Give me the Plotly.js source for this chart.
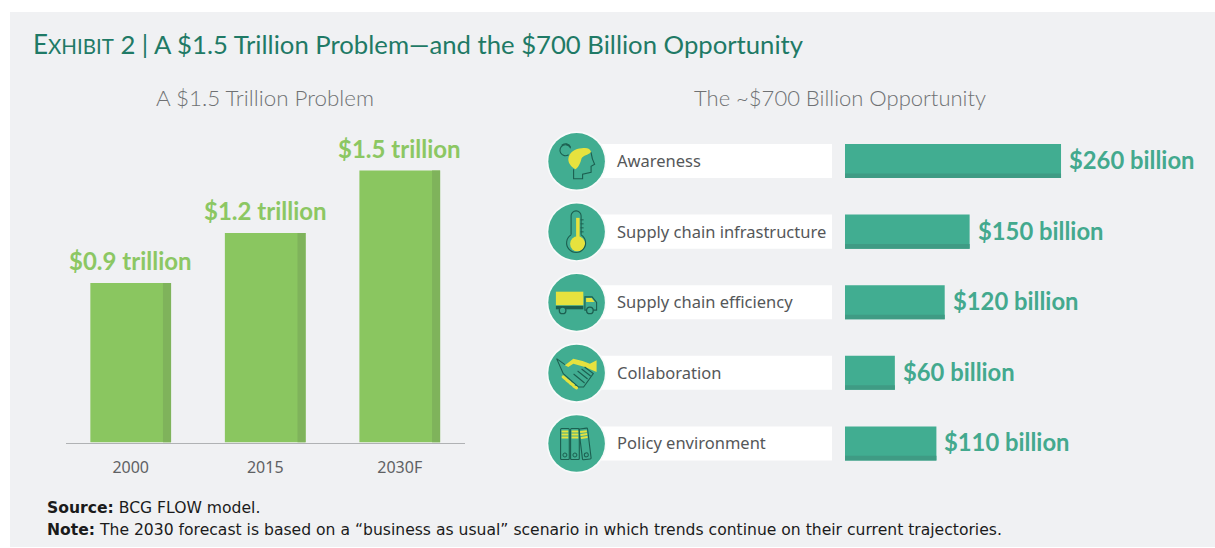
<!DOCTYPE html>
<html>
<head>
<meta charset="utf-8">
<script src="https://cdn.plot.ly/plotly-3.0.1.min.js"></script>
<style>html,body{margin:0;padding:0;background:#fff}#chart{width:1215px;height:548px}</style>
</head>
<body>
<div id="chart"></div>
<script>
// ---- data ----
const problemYears = ['2000', '2015', '2030F'];
const problemHeights = [0.886, 1.164, 1.511];
const problemLabels = ['$0.9 trillion', '$1.2 trillion', '$1.5 trillion'];
const opportunityCategories = ['Awareness', 'Supply chain infrastructure', 'Supply chain efficiency', 'Collaboration', 'Policy environment'];
const opportunityValues = [260, 150, 120, 60, 110];
const opportunityLabels = ['$260 billion', '$150 billion', '$120 billion', '$60 billion', '$110 billion'];
const mainTitle = '<span style="font-size:26px">E</span><span style="font-size:20.5px">XHIBIT</span> 2 | A $1.5 Trillion Problem—and the $700 Billion Opportunity';
const leftTitle = 'A $1.5 Trillion Problem';
const rightTitle = 'The ~$700 Billion Opportunity';
const sourceNote = '<b>Source:</b> BCG FLOW model.';
const noteText = '<b>Note:</b> The 2030 forecast is based on a “business as usual” scenario in which trends continue on their current trajectories.';

// ---- page geometry helpers ----
const W = 1215, H = 548;
const px = v => v / W;
const py = v => 1 - v / H;

// ---- icons (decorative) ----
const D = '#1c5f50', Y = '#e6e23e';
const iconBodies = [
  // head
  `<path d="M21.7 28.3C22 21 29 17 35 17C40 16 44 17 44.5 21C41 24 37 24 35 27C34 31 32 36 29 38C25 36 22 33 21.7 28.3Z" fill="${Y}"/>
   <path d="M44.5 21C45 25 45 27 48 33L44.5 35L44.5 41L36 43L36 47.5L27 47.5L27 38" fill="none" stroke="${D}" stroke-width="1.1"/>
   <path d="M24 17A5.5 5.5 0 1 0 22 23.5M15 14A5.5 5.5 0 0 1 24 16" fill="none" stroke="${D}" stroke-width="1.1"/>`,
  // thermometer
  `<circle cx="31" cy="42" r="7.5" fill="${Y}"/><rect x="29.5" y="16" width="3.5" height="22" fill="${Y}"/>
   <path d="M24.5 33V14A5 5 0 0 1 34.500 14V33" fill="none" stroke="${D}" stroke-width="1.1"/>
   <path d="M24.5 33A9.500 9.500 0 1 0 34.500 33" fill="none" stroke="${D}" stroke-width="1.1"/>
   <path d="M34 18h3M34 22h3M34 26h3M34 30h3" stroke="${D}" stroke-width="1"/>`,
  // truck
  `<rect x="9.300" y="19.300" width="27.400" height="13.500" fill="${Y}"/><rect x="9.300" y="33.500" width="27.400" height="3.400" fill="${D}"/>
   <path d="M38.300 37.700V24.500H45.500L50 30V37.700Z" fill="none" stroke="${D}" stroke-width="1.1"/>
   <path d="M39.500 25.500H45L48 29.500H39.500Z" fill="${Y}"/>
   <circle cx="16" cy="38" r="3.300" fill="#41ad91" stroke="${D}" stroke-width="1.300"/><circle cx="43.300" cy="38" r="3.300" fill="#41ad91" stroke="${D}" stroke-width="1.300"/>`,
  // handshake
  `<path d="M18.300 22.300L26.700 15.700L36 18L43.300 20.700L50 17.300V29L38.300 24L26.700 20.700L21.700 24Z" fill="${Y}"/>
   <path d="M10 15.700L18.300 21.700M10 15.700L16.700 30.700L31.700 44H37L46.700 30.700L38 24M27 31L38 40M31 28L41 36M35 26L44 33" fill="none" stroke="${D}" stroke-width="1.100"/>
   <path d="M16.500 34L19.500 36.500M20 37L23.300 39.500M23.500 40L26.800 42.300M27 43L30 45" stroke="${Y}" stroke-width="3" stroke-linecap="round"/>`,
  // binders
  `<rect x="14" y="15" width="8.700" height="31" rx="1" fill="none" stroke="${D}" stroke-width="1.100"/>
   <rect x="24" y="15" width="8.700" height="31" rx="1" fill="none" stroke="${D}" stroke-width="1.100"/>
   <g transform="rotate(-7 38 30)"><rect x="34" y="15" width="8.700" height="31" rx="1" fill="none" stroke="${D}" stroke-width="1.100"/>
   <path d="M35 18h6.700M35 21h6.700M35 24h6.700" stroke="${Y}" stroke-width="2"/><circle cx="38.300" cy="41.500" r="2" fill="none" stroke="${D}"/></g>
   <path d="M15 18h6.700M15 21h6.700M15 24h6.700M25 18h6.700M25 21h6.700M25 24h6.700" stroke="${Y}" stroke-width="2"/>
   <circle cx="18.300" cy="41.500" r="2" fill="none" stroke="${D}"/><circle cx="28.300" cy="41.500" r="2" fill="none" stroke="${D}"/>`
];
const iconUri = body => 'data:image/svg+xml;charset=utf-8,' + encodeURIComponent(
  `<svg xmlns="http://www.w3.org/2000/svg" width="240" height="240" viewBox="0 0 60 60"><circle cx="30" cy="30" r="30" fill="#f8fafa"/><circle cx="30" cy="30" r="28.300" fill="#41ad91"/>${body}</svg>`);

// ---- axis geometry ----
const rowY = i => 161.3 + 70.55 * i;
const leftFont = 'Lato, sans-serif', bodyFont = '"Noto Sans", sans-serif', noteFont = '"DejaVu Sans", sans-serif';
const lightGreen = '#8ac660', darkGreen = '#7fb35b', teal = '#41ad91', darkTeal = '#3f9b84', tealText = '#43a98e';

const traces = [
  {type:'bar', x:problemYears, y:problemHeights, width:0.6, marker:{color:lightGreen, line:{width:0}}, xaxis:'x', yaxis:'y', hoverinfo:'skip'},
  {type:'bar', x:problemYears, y:problemHeights, width:0.06, offset:0.24, marker:{color:darkGreen, line:{width:0}}, xaxis:'x', yaxis:'y', hoverinfo:'skip'},
  {type:'bar', orientation:'h', y:opportunityCategories, x:opportunityValues, width:0.482, marker:{color:teal, line:{width:0}}, xaxis:'x2', yaxis:'y2', hoverinfo:'skip'},
  {type:'bar', orientation:'h', y:opportunityCategories, x:opportunityValues, width:0.065, offset:0.176, marker:{color:darkTeal, line:{width:0}}, xaxis:'x2', yaxis:'y2', hoverinfo:'skip'}
];

const annotations = [];
const textAnn = (o) => annotations.push(Object.assign({showarrow:false, align:'left'}, o));
textAnn({xref:'paper', yref:'paper', x:px(265), y:py(98), xanchor:'center', yanchor:'middle', text:leftTitle, font:{family:leftFont, size:22.4, color:'#6f7173', weight:300}});
textAnn({xref:'paper', yref:'paper', x:px(840), y:py(98), xanchor:'center', yanchor:'middle', text:rightTitle, font:{family:leftFont, size:22, color:'#6f7173', weight:300}});
textAnn({xref:'paper', yref:'paper', x:px(44.5), y:py(508), xanchor:'left', yanchor:'middle', text:sourceNote, font:{family:noteFont, size:15.6, color:'#1b1b1b'}});
textAnn({xref:'paper', yref:'paper', x:px(44.5), y:py(530), xanchor:'left', yanchor:'middle', text:noteText, font:{family:noteFont, size:15.6, color:'#1b1b1b'}});
problemYears.forEach((yr, i) => textAnn({xref:'x', yref:'y', x:i, y:problemHeights[i], xanchor:'center', yanchor:'bottom', yshift:6, text:'<b>'+problemLabels[i]+'</b>', font:{family:leftFont, size:24, color:'#8cc763'}}));
opportunityCategories.forEach((c, i) => {
  textAnn({xref:'paper', yref:'y2', x:px(615.5), y:i, xanchor:'left', yanchor:'middle', yshift:0.5, text:c, font:{family:bodyFont, size:16.5, color:'#555759'}});
  textAnn({xref:'x2', yref:'y2', x:opportunityValues[i], y:i, xanchor:'left', yanchor:'middle', xshift:6, yshift:1, text:'<b>'+opportunityLabels[i]+'</b>', font:{family:leftFont, size:23.8, color:tealText}});
});

const shapes = [
  {type:'rect', xref:'paper', yref:'paper', x0:px(10), x1:1, y0:py(547), y1:py(12), fillcolor:'#f0f1f3', line:{width:0}, layer:'below'}
];
opportunityCategories.forEach((c, i) => shapes.push(
  {type:'rect', xref:'paper', yref:'y2', x0:px(595), x1:px(832), y0:i-0.241, y1:i+0.241, fillcolor:'#ffffff', line:{width:0}, layer:'below'}));

const images = iconBodies.map((b, i) => ({
  source:iconUri(b), xref:'paper', yref:'paper', x:px(576.6), y:py(rowY(i)), sizex:px(60), sizey:60/H,
  xanchor:'center', yanchor:'middle', sizing:'stretch', layer:'above'
}));

const layout = {
  width:W, height:H, margin:{l:0, r:0, t:0, b:0},
  paper_bgcolor:'#ffffff', plot_bgcolor:'rgba(0,0,0,0)', showlegend:false, barmode:'overlay',
  title:{text:mainTitle, x:px(33), xanchor:'left', y:py(45), yanchor:'middle', font:{family:leftFont, size:25.7, color:'#1f7a66'}},
  xaxis:{domain:[px(66), px(465)], type:'category', range:[-0.481, 2.485], showline:true, linecolor:'#b0b2b4', linewidth:1.5,
         ticks:'', ticklabelstandoff:10, tickfont:{family:bodyFont, size:16, color:'#5f6163'}, showgrid:false, zeroline:false, fixedrange:true},
  yaxis:{domain:[py(442.5), py(130)], range:[0, 1.736], visible:false, fixedrange:true},
  xaxis2:{domain:[px(845), px(1210)], range:[0, 439.300], visible:false, fixedrange:true},
  yaxis2:{domain:[py(478), py(126)], type:'category', range:[4.49, -0.496], visible:false, fixedrange:true, anchor:'x2'},
  annotations, shapes, images
};
Plotly.newPlot('chart', traces, layout, {displayModeBar:false, staticPlot:true});
</script>
</body>
</html>
